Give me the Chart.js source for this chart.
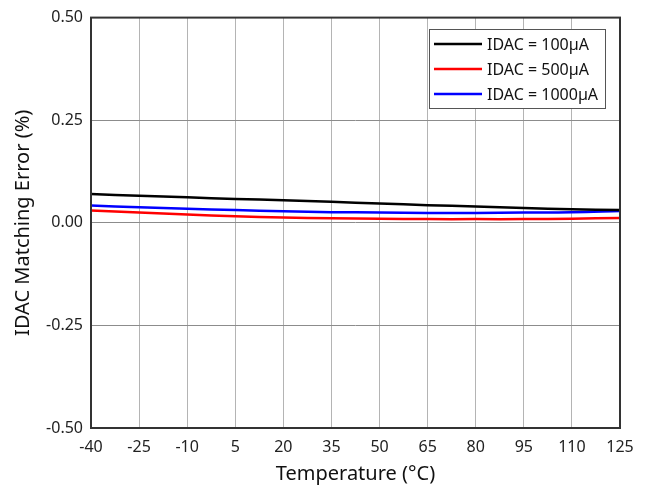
<!DOCTYPE html>
<html>
<head>
<meta charset="utf-8">
<script src="https://cdn.jsdelivr.net/npm/chart.js@4"></script>
<style>
  html, body { margin: 0; padding: 0; background: #fff; }
  #wrap { width: 645px; height: 486px; }
</style>
</head>
<body>
<div id="wrap"><canvas id="grafico" width="645" height="486"></canvas></div>
<script>
// temperaturas (eixo x) e valores
const temperaturas = [-40, -25, -10, 5, 20, 35, 50, 65, 80, 95, 110, 125];
const idac100 = [0.070, 0.066, 0.062, 0.058, 0.055, 0.051, 0.047, 0.043, 0.040, 0.036, 0.033, 0.031];
const idac500 = [0.030, 0.025, 0.020, 0.016, 0.013, 0.011, 0.010, 0.009, 0.009, 0.009, 0.010, 0.012];
const idac1000 = [0.042, 0.038, 0.034, 0.031, 0.028, 0.026, 0.025, 0.024, 0.024, 0.025, 0.026, 0.029];
const yTicks = [-0.5, -0.25, 0, 0.25, 0.5];
const rotulos = ['IDAC = 100µA', 'IDAC = 500µA', 'IDAC = 1000µA'];

const fonte = "'Noto Sans', 'Open Sans', sans-serif";

function pontos(valores) {
    return temperaturas.map((t, i) => ({ x: t, y: valores[i] }));
}

// moldura do gráfico e legenda em caixa
const molduraPlugin = {
    id: 'moldura',
    afterDraw(chart) {
        const ctx = chart.ctx;
        const a = chart.chartArea;
        ctx.save();
        ctx.strokeStyle = '#333';
        ctx.lineWidth = 2;
        ctx.strokeRect(a.left, a.top, a.right - a.left, a.bottom - a.top);

        // legenda
        const bx = 429, by = 29, bw = 176, bh = 79;
        ctx.fillStyle = '#fff';
        ctx.fillRect(bx, by, bw, bh);
        ctx.strokeStyle = '#555';
        ctx.lineWidth = 1;
        ctx.strokeRect(bx + 0.5, by + 0.5, bw, bh);
        ctx.font = '16px ' + fonte;
        ctx.textBaseline = 'middle';
        chart.data.datasets.forEach((ds, i) => {
            const y = by + 15 + i * 25;
            ctx.strokeStyle = ds.borderColor;
            ctx.lineWidth = 2.5;
            ctx.beginPath();
            ctx.moveTo(bx + 5, y);
            ctx.lineTo(bx + 53, y);
            ctx.stroke();
            ctx.fillStyle = '#111';
            ctx.fillText(ds.label, bx + 58, y + 1);
        });
        ctx.restore();
    }
};

const ctx = document.getElementById('grafico').getContext('2d');
const grafico = new Chart(ctx, {
    type: 'line',
    data: {
        datasets: [
            { label: rotulos[0], data: pontos(idac100), borderColor: '#000000' },
            { label: rotulos[1], data: pontos(idac500), borderColor: '#ff0000' },
            { label: rotulos[2], data: pontos(idac1000), borderColor: '#0000ff' }
        ]
    },
    options: {
        responsive: false,
        animation: false,
        layout: { padding: { top: 11, right: 25, bottom: 0, left: 8 } },
        elements: {
            line: { borderWidth: 2.5, tension: 0.4 },
            point: { radius: 0 }
        },
        plugins: {
            legend: { display: false },
            tooltip: { enabled: false }
        },
        scales: {
            x: {
                type: 'linear',
                min: -40,
                max: 125,
                afterBuildTicks(scale) {
                    scale.ticks = temperaturas.map(v => ({ value: v }));
                },
                afterFit(scale) {
                    scale.height = 58;
                },
                grid: { color: '#b4b4b4', lineWidth: 1, drawTicks: false },
                border: { display: false },
                ticks: {
                    padding: 10,
                    color: '#222',
                    font: { family: fonte, size: 16 },
                    maxRotation: 0,
                    autoSkip: false
                },
                title: {
                    display: true,
                    text: 'Temperature (°C)',
                    color: '#111',
                    font: { family: fonte, size: 20 },
                    padding: { top: 0, bottom: 0 }
                }
            },
            y: {
                min: -0.5,
                max: 0.5,
                afterBuildTicks(scale) {
                    scale.ticks = yTicks.map(v => ({ value: v }));
                },
                afterFit(scale) {
                    scale.width = 83;
                },
                grid: { color: '#8c8c8c', lineWidth: 1, drawTicks: false },
                border: { display: false },
                ticks: {
                    padding: 8,
                    color: '#222',
                    font: { family: fonte, size: 16 },
                    callback: function(value) {
                        return value.toFixed(2);
                    }
                },
                title: {
                    display: true,
                    text: 'IDAC Matching Error (%)',
                    color: '#111',
                    font: { family: fonte, size: 20 },
                    padding: { top: 3, bottom: 4 }
                }
            }
        }
    },
    plugins: [molduraPlugin]
});
</script>
</body>
</html>
